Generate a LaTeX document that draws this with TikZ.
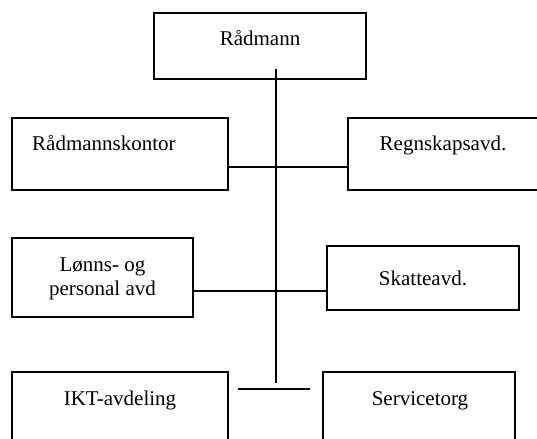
\documentclass[tikz,border=0pt]{standalone}
\usepackage{fontspec}
\setmainfont{Liberation Serif}
\begin{document}
\begin{tikzpicture}[x=1bp,y=-1bp,
  box/.style={draw=black, line width=1.3bp, rectangle, inner sep=0pt, fill=none},
  lbl/.style={inner sep=0pt, font=\fontsize{21bp}{24bp}\selectfont},
  conn/.style={draw=black, line width=1.3bp}]
\useasboundingbox (0,0) rectangle (537,439);
\begin{scope}
\clip (0,0) rectangle (537,439);
% boxes
\node[box, minimum width=212bp, minimum height=66bp] (radmann) at (260,46) {};
\node[box, minimum width=216bp, minimum height=72bp] (kontor) at (120,154) {};
\node[box, minimum width=200bp, minimum height=72bp] (regnskap) at (448,154) {};
\node[box, minimum width=181bp, minimum height=79bp] (lonn) at (102.5,277.5) {};
\node[box, minimum width=192bp, minimum height=64bp] (skatt) at (423,278) {};
\node[box, minimum width=216bp, minimum height=90bp] (ikt) at (120,417) {};
\node[box, minimum width=192bp, minimum height=90bp] (service) at (419,417) {};
\end{scope}
% texts
\node[lbl, anchor=base] (radmann-t) at (260,46) {Rådmann};
\node[lbl, anchor=base west] (kontor-t) at (32,151) {Rådmannskontor};
\node[lbl, anchor=base] (regnskap-t) at (443,151) {Regnskapsavd.};
\node[lbl, align=center, anchor=base] (lonn-t) at (102.5,295) {Lønns- og\\personal avd};
\node[lbl, anchor=base] (skatt-t) at (423,285) {Skatteavd.};
\node[lbl, anchor=base] (ikt-t) at (120,405) {IKT-avdeling};
\node[lbl, anchor=base] (service-t) at (420,405) {Servicetorg};
% connectors
\coordinate (vtop) at (276,69);
\coordinate (vbot) at (276,383);
\coordinate (h1) at (276,167);
\coordinate (h2) at (276,291);
\coordinate (b1) at (238,389);
\coordinate (b2) at (310,389);
\draw[conn] (vtop) -- (vbot);
\draw[conn] (kontor.east |- h1) -- (regnskap.west |- h1);
\draw[conn] (lonn.east |- h2) -- (skatt.west |- h2);
\draw[conn] (b1) -- (b2);
\end{tikzpicture}
\end{document}
